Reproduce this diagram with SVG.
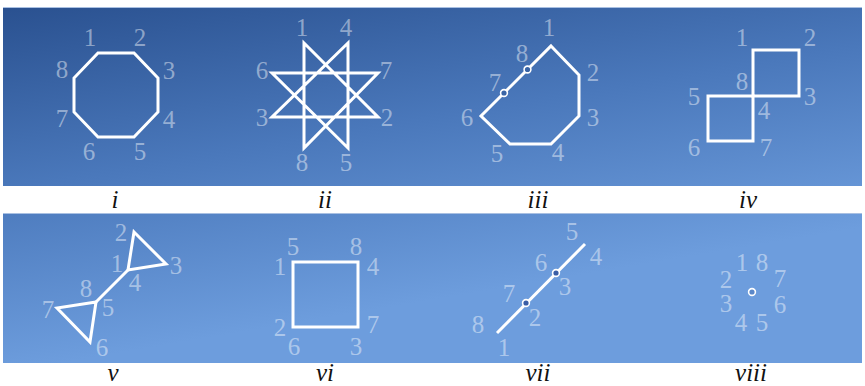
<svg xmlns="http://www.w3.org/2000/svg" width="865" height="386" viewBox="0 0 865 386">
<defs>
<linearGradient id="bg" gradientUnits="userSpaceOnUse" x1="0" y1="8" x2="60" y2="363">
<stop offset="0" stop-color="#2a5190"/>
<stop offset="0.5" stop-color="#4a78bb"/>
<stop offset="1" stop-color="#6d9ddd"/>
</linearGradient>
</defs>
<style>
.fig{fill:none;stroke:#fff;stroke-width:3;stroke-linejoin:miter}
.n{font-family:"Liberation Serif","Times New Roman",serif;font-size:25px;fill:#fff;fill-opacity:.45;text-anchor:middle}
.cap{font-family:"Liberation Serif","Times New Roman",serif;font-size:25px;font-style:italic;fill:#111;text-anchor:middle}
.dot{stroke:#fff;stroke-width:1.6}
</style>
<rect width="865" height="386" fill="#fff"/>
<rect x="3" y="8" width="859" height="178" fill="url(#bg)"/>
<rect x="3" y="214" width="859" height="149" fill="url(#bg)"/>
<line x1="3" y1="7.5" x2="862" y2="7.5" stroke="#a9c0e2" stroke-width="1"/>
<line x1="3" y1="213.5" x2="862" y2="213.5" stroke="#a9c0e2" stroke-width="1"/>

<g id="fig-i">
<polygon class="fig" points="98,53 134,53 158,78 158,112 134,137 98,137 74,112 74,78"/>
<text class="n" x="90" y="46">1</text><text class="n" x="140" y="46">2</text>
<text class="n" x="169" y="79">3</text><text class="n" x="169" y="128">4</text>
<text class="n" x="140" y="160">5</text><text class="n" x="89" y="160">6</text>
<text class="n" x="62" y="127">7</text><text class="n" x="62" y="78">8</text>
<text class="cap" x="115" y="208">i</text>
</g>

<g id="fig-ii">
<polygon class="fig" points="304,43 378,117 272,117 348,43 348,148 272,73 378,73 304,148"/>
<text class="n" x="302" y="36">1</text><text class="n" x="387" y="126">2</text>
<text class="n" x="262" y="126">3</text><text class="n" x="346" y="36">4</text>
<text class="n" x="346" y="171">5</text><text class="n" x="262" y="79">6</text>
<text class="n" x="386" y="79">7</text><text class="n" x="302" y="171">8</text>
<text class="cap" x="325" y="208">ii</text>
</g>

<g id="fig-iii">
<polygon class="fig" points="551,46 579,75 579,116 551,144 510,144 481,116"/>
<circle class="dot" cx="504" cy="93" r="3.4" fill="#3a65a6"/>
<circle class="dot" cx="527.5" cy="69.5" r="3.4" fill="#3a64a5"/>
<text class="n" x="549" y="36">1</text><text class="n" x="593" y="81">2</text>
<text class="n" x="593" y="126">3</text><text class="n" x="558" y="161">4</text>
<text class="n" x="497" y="162">5</text><text class="n" x="467" y="126">6</text>
<text class="n" x="495" y="91">7</text><text class="n" x="522" y="62">8</text>
<text class="cap" x="538" y="208">iii</text>
</g>

<g id="fig-iv">
<polygon class="fig" points="753,50 799,50 799,96 753,96"/>
<polygon class="fig" points="708,96 753,96 753,141 708,141"/>
<text class="n" x="742" y="46">1</text><text class="n" x="810" y="46">2</text>
<text class="n" x="810" y="105">3</text><text class="n" x="764" y="119">4</text>
<text class="n" x="694" y="105">5</text><text class="n" x="694" y="156">6</text>
<text class="n" x="766" y="156">7</text><text class="n" x="742" y="90">8</text>
<text class="cap" x="748" y="208">iv</text>
</g>

<g id="fig-v">
<polygon class="fig" points="134,232 166,264 128,270"/>
<polygon class="fig" points="96,302 57,308 90,342"/>
<line class="fig" x1="128" y1="270" x2="96" y2="302"/>
<text class="n" x="117" y="272">1</text><text class="n" x="121" y="241">2</text>
<text class="n" x="176" y="274">3</text><text class="n" x="135" y="291">4</text>
<text class="n" x="108" y="316">5</text><text class="n" x="102" y="356">6</text>
<text class="n" x="48" y="318">7</text><text class="n" x="86" y="297">8</text>
<text class="cap" x="113" y="381">v</text>
</g>

<g id="fig-vi">
<polygon class="fig" points="293,262 358,262 358,327 293,327"/>
<text class="n" x="280" y="275">1</text><text class="n" x="280" y="336">2</text>
<text class="n" x="356" y="355">3</text><text class="n" x="373" y="275">4</text>
<text class="n" x="293" y="255">5</text><text class="n" x="294" y="355">6</text>
<text class="n" x="373" y="333">7</text><text class="n" x="356" y="255">8</text>
<text class="cap" x="325" y="381">vi</text>
</g>

<g id="fig-vii">
<line class="fig" x1="497" y1="333" x2="585" y2="244"/>
<circle class="dot" cx="526" cy="303" r="3.4" fill="#3a5ea6"/>
<circle class="dot" cx="556" cy="273" r="3.4" fill="#3a5ea6"/>
<text class="n" x="504" y="356">1</text><text class="n" x="535" y="326">2</text>
<text class="n" x="565" y="295">3</text><text class="n" x="596" y="265">4</text>
<text class="n" x="572" y="240">5</text><text class="n" x="541" y="271">6</text>
<text class="n" x="509" y="302">7</text><text class="n" x="478" y="333">8</text>
<text class="cap" x="538" y="381">vii</text>
</g>

<g id="fig-viii">
<circle class="dot" cx="752" cy="292" r="3.4" fill="#5b88c9"/>
<text class="n" x="742" y="271">1</text><text class="n" x="726" y="288">2</text>
<text class="n" x="726" y="312">3</text><text class="n" x="741" y="331">4</text>
<text class="n" x="762" y="331">5</text><text class="n" x="780" y="313">6</text>
<text class="n" x="780" y="287">7</text><text class="n" x="762" y="271">8</text>
<text class="cap" x="751" y="381">viii</text>
</g>
</svg>
